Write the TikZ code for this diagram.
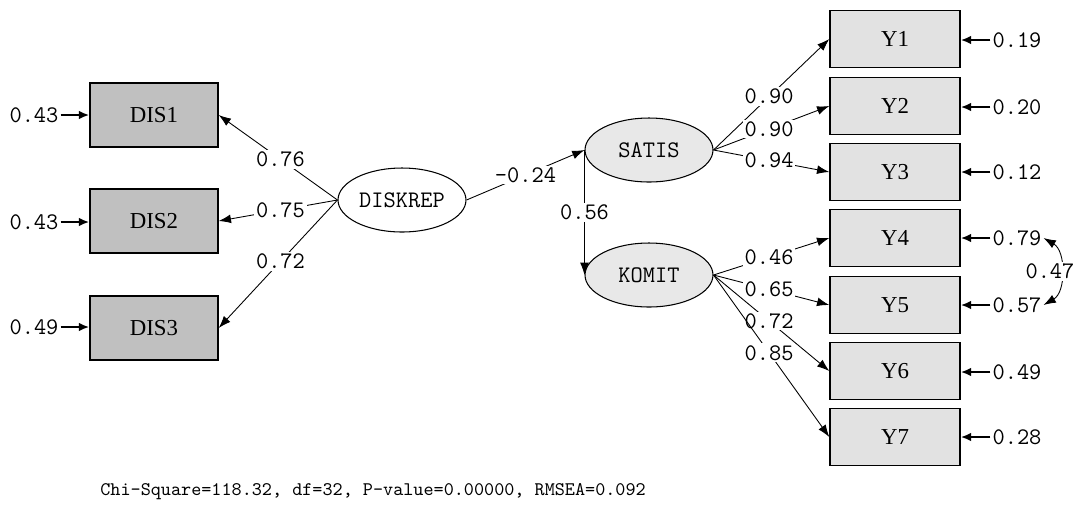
\documentclass[tikz,border=0pt]{standalone}
\usepackage{fontspec}
\setmainfont{Liberation Serif}
\usetikzlibrary{arrows.meta, shapes.geometric}

\definecolor{disgray}{RGB}{192,192,192}
\definecolor{ygray}{RGB}{226,226,226}
\definecolor{latgray}{RGB}{232,232,232}

\tikzset{
  dispbox/.style = {draw, line width = 0.8pt, fill = disgray,
    minimum width = 2.56cm, minimum height = 1.28cm,
    font = \fontsize{13}{15}\selectfont},
  ybox/.style = {draw, line width = 0.8pt, fill = ygray,
    minimum width = 2.6cm, minimum height = 1.14cm,
    font = \fontsize{13}{15}\selectfont},
  latent/.style = {draw, ellipse, line width = 0.6pt,
    minimum width = 2.56cm, minimum height = 1.28cm, inner sep = 0pt,
    font = \ttfamily\fontsize{13.5}{15}\selectfont},
  errtext/.style = {font = \ttfamily\fontsize{13.5}{15}\selectfont, inner sep = 1pt},
  coef/.style = {fill = white, inner sep = 1pt,
    font = \ttfamily\fontsize{13.5}{15}\selectfont},
  loading/.style = {line width = 0.5pt, -{Latex[length = 7pt, width = 5pt]}},
  errpath/.style = {line width = 1.3pt, -{Latex[length = 6pt, width = 5pt]}}
}

\begin{document}
\begin{tikzpicture}[x = 0.02cm, y = -0.02cm]
  \useasboundingbox (0,0) rectangle (1073,512);

  % draws the observed boxes
  \foreach \y [count = \i] in {115,221,328}
    \node[dispbox] (DIS\i) at (154,\y) {DIS\i};
  \foreach \y [count = \i] in {39,106,172,238,305,371,437}
    \node[ybox] (Y\i) at (895,\y) {Y\i};

  % draws the latent variables
  \node[latent] (DISKREP) at (402,200) {DISKREP};
  \node[latent, fill = latgray] (SATIS) at (649,150) {SATIS};
  \node[latent, fill = latgray] (KOMIT) at (649,275) {KOMIT};

  % draws the error terms
  \foreach \e/\y [count = \i] in {0.43/115, 0.43/222, 0.49/327}
  {
    \node[errtext] (d\i) at (34,\y) {\e};
    \draw[errpath] (d\i) -- (DIS\i.west |- d\i);
  }
  \foreach \e/\y [count = \i] in {0.19/40, 0.20/107, 0.12/172, 0.79/238,
                                   0.57/305, 0.49/372, 0.28/437}
  {
    \node[errtext] (e\i) at (1017,\y) {\e};
    \draw[errpath] (e\i) -- (Y\i.east |- e\i);
  }
  \draw[line width = 0.5pt, {Latex[length = 7pt, width = 5pt]}-{Latex[length = 7pt, width = 5pt]}]
    (e4.east) to[out = -30, in = 30]
    node[coef, pos = 0.5, xshift = -6pt] {0.47} (e5.east);

  % draws the paths
  \foreach \c/\i in {0.76/1, 0.75/2, 0.72/3}
    \draw[loading] (DISKREP.west) -- node[coef, pos = 0.48] {\c} (DIS\i.east);
  \draw[loading] (DISKREP.east) -- node[coef] {-0.24} (SATIS.west);
  \draw[loading] (SATIS.west) -- node[coef] {0.56} (KOMIT.west);
  \foreach \c/\i in {0.90/1, 0.90/2, 0.94/3}
    \draw[loading] (SATIS.east) -- node[coef, pos = 0.48] {\c} (Y\i.west);
  \foreach \c/\i in {0.46/4, 0.65/5, 0.72/6, 0.85/7}
    \draw[loading] (KOMIT.east) -- node[coef, pos = 0.48] {\c} (Y\i.west);

  % draws the fit statistics
  \node[anchor = west, inner sep = 0pt, font = \ttfamily\fontsize{10.95}{12}\selectfont]
    (fit) at (100,492) {Chi-Square=118.32, df=32, P-value=0.00000, RMSEA=0.092};
\end{tikzpicture}
\end{document}
